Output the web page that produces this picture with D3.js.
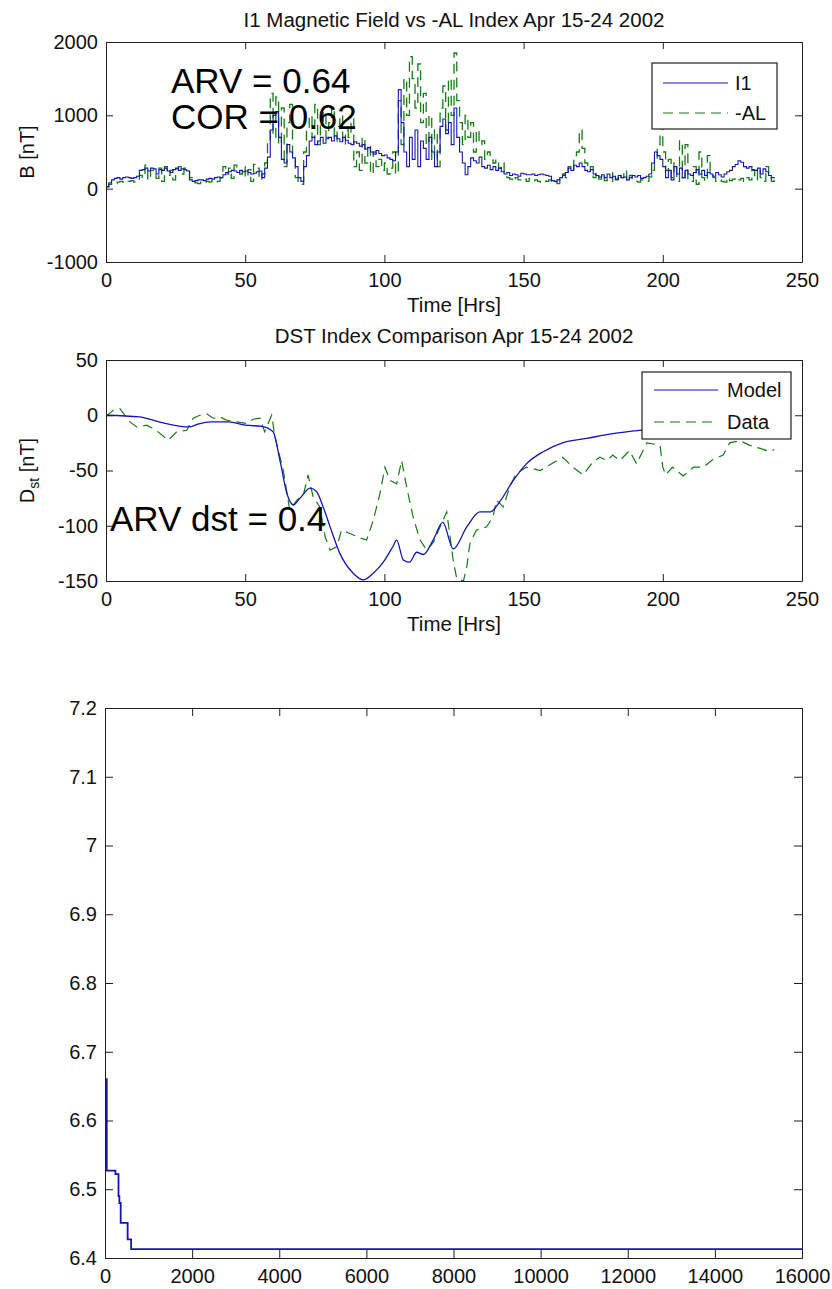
<!DOCTYPE html>
<html>
<head>
<meta charset="utf-8">
<script src="https://cdn.jsdelivr.net/npm/d3@7"></script>
<style>
  body { margin: 0; background: #fff; }
  svg { display: block; }
</style>
</head>
<body>
<svg id="fig" width="832" height="1289"></svg>
<script>
// ---- I1 magnetic field and -AL index, hourly values [nT], hours 0..240 ----
const i1Field = [
  30, 80, 120, 140, 150, 130, 150, 160, 150, 140,
  150, 170, 250, 260, 280, 240, 280, 270, 200, 260,
  250, 280, 240, 220, 260, 280, 250, 270, 260, 240,
  120, 100, 110, 120, 120, 110, 130, 140, 130, 150,
  160, 150, 190, 220, 230, 250, 240, 220, 250, 230,
  240, 220, 200, 210, 230, 240, 150, 280, 430, 800,
  1000, 1050, 700, 400, 350, 600, 500, 420, 300, 150,
  100, 300, 450, 650, 700, 600, 650, 700, 620, 680,
  700, 650, 720, 680, 640, 700, 660, 620, 600, 640,
  620, 580, 600, 540, 560, 500, 470, 520, 480, 450,
  460, 420, 400, 380, 500, 1350, 900, 500, 300, 700,
  400, 800, 300, 650, 550, 400, 700, 500, 300, 500,
  850, 950, 750, 900, 600, 1100, 700, 500, 350, 190,
  300, 420, 380, 350, 430, 300, 280, 320, 260, 300,
  250, 280, 230, 200, 220, 180, 200, 190, 170, 210,
  200, 190, 190, 200, 180, 190, 200, 190, 180, 170,
  110, 100, 120, 150, 180, 220, 280, 250, 320, 300,
  350, 300, 250, 230, 260, 200, 180, 160, 190, 150,
  200, 150, 170, 130, 180, 150, 160, 120, 150, 180,
  160, 180, 140, 150, 170, 200, 350, 500, 450, 400,
  300, 150, 250, 120, 300, 200, 280, 150, 250, 200,
  180, 220, 260, 200, 250, 180, 220, 200, 170, 220,
  190, 160, 200, 230, 250, 300, 330, 380, 360, 300,
  280, 300, 260, 250, 280, 200, 270, 230, 180, 150,
  160
];
const negAL = [
  20, 60, 80, 70, 90, 100, 90, 80, 100, 110,
  90, 130, 180, 150, 320, 120, 250, 200, 140, 280,
  100, 300, 180, 250, 120, 270, 300, 200, 280, 260,
  150, 90, 80, 70, 90, 80, 100, 90, 110, 90,
  100, 150, 300, 200, 280, 140, 320, 250, 200, 300,
  150, 260, 100, 330, 280, 120, 200, 350, 650, 1300,
  700, 1250, 600, 1100, 300, 900, 1150, 400, 150, 80,
  60, 500, 800, 1000, 700, 1150, 600, 900, 1050, 700,
  900, 1100, 650, 850, 1000, 600, 800, 700, 950, 300,
  500, 250, 700, 350, 600, 200, 500, 300, 400, 250,
  350, 200, 280, 500, 200, 1200, 600, 1500, 1000, 1800,
  1500, 1100, 1700, 900, 1300, 600, 1000, 400, 800, 300,
  1100, 1400, 800, 1500, 1000, 1850, 1200, 900, 600, 1000,
  700, 900, 500, 800, 600, 650, 400, 500, 450, 350,
  400, 280, 350, 200, 150, 130, 100, 150, 120, 110,
  130, 100, 140, 110, 120, 100, 90, 110, 100, 120,
  80, 90, 70, 120, 200, 150, 300, 250, 450, 500,
  800, 550, 350, 250, 300, 150, 220, 130, 200, 110,
  130, 100, 220, 120, 200, 150, 250, 100, 180, 110,
  100, 90, 120, 110, 100, 160, 250, 400, 600, 850,
  500, 250, 400, 150, 350, 100, 650, 150, 600, 120,
  100, 300, 60, 500, 150, 100, 450, 200, 150, 100,
  120, 100, 90, 150, 110, 130, 150, 120, 140, 100,
  150, 120, 250, 120, 280, 150, 100, 300, 150, 100,
  120
];

// ---- Dst index: model and measured [nT] ----
const dstModelHrs = [0, 12, 19, 30, 33, 38, 44, 50, 56, 60, 62.5, 65, 67.3, 69.7, 73.3, 75.6, 78, 80.5, 84, 88.8, 92.4, 96, 99.6, 103, 104.4, 106.8, 109, 111.6, 114, 117.5, 121, 124.7, 129.6, 134.3, 138, 141.5, 146.3, 151, 157, 164, 172.6, 182, 191.8, 199, 210, 225, 240];
const dstModelVals = [0, -1.5, -6, -10.6, -8, -6, -6, -9, -10, -15, -41, -71, -81, -75, -66, -69, -83, -101, -125, -143, -149, -143, -133, -119, -113, -131, -133, -124, -126, -113, -97, -121, -101, -87.5, -87.5, -78, -59, -44, -33, -25, -21, -16.6, -13.6, -12, -10, -9, -8];
const dstDataHrs = [0, 2.6, 5, 8.6, 11, 14.6, 18, 22.3, 25.4, 29, 31.3, 33.7, 36, 38.6, 41, 43.4, 47, 50.5, 52.9, 55.3, 57, 59.5, 60.7, 62.5, 63.7, 66, 68.5, 71, 72.6, 74.4, 76.8, 78.7, 80.5, 82.9, 84.6, 87.6, 91.2, 93.6, 96, 98.4, 100.2, 102, 104.4, 106.2, 108, 110.3, 112.8, 115.2, 117.6, 120, 122.4, 124.7, 126, 128.4, 129.6, 130.7, 133, 136.7, 139, 140.3, 142.7, 145, 147.3, 151, 156, 158, 162, 164, 167.7, 171.4, 175, 177.4, 180, 182, 184.6, 188, 190.6, 194.2, 199, 200, 201, 203.5, 207.3, 211, 214.6, 218, 221.7, 224, 227.7, 231, 235, 238.5, 240];
const dstDataVals = [-1, 4.5, 6, -6, -10.6, -9, -13.6, -22.6, -15, -13.6, -2.7, 0, 1.5, -2.7, -1.5, -4.5, -6, -7.5, -3.6, -2.7, -15, 0, -19.6, -38, -50, -86, -77, -71, -54, -74, -83, -110, -122, -119, -104, -107, -111, -113, -95, -71, -47, -59, -62, -41, -65, -92, -113, -122, -115, -101, -87.5, -131, -148, -150, -137, -116, -104, -101, -92, -77, -83, -65, -53, -47, -50, -47, -41, -38, -47, -54, -42, -38, -41, -36, -41, -32, -44, -25, -27, -47, -54, -47, -55, -47, -47, -40, -36, -25, -23, -27, -30, -33, -31];

// ---- objective value per iteration ----
const iterX = [0, 40, 240, 310, 330, 360, 520, 600, 16000];
const iterY = [6.66, 6.527, 6.522, 6.49, 6.48, 6.451, 6.427, 6.413, 6.413];

// ---- tick values ----
const ticksHrs = [0, 50, 100, 150, 200, 250];
const ticksB = [-1000, 0, 1000, 2000];
const ticksDst = [-150, -100, -50, 0, 50];
const ticksIter = [0, 2000, 4000, 6000, 8000, 10000, 12000, 14000, 16000];
const ticksObj = [6.4, 6.5, 6.6, 6.7, 6.8, 6.9, 7.0, 7.1, 7.2];

const FONT = '"Liberation Sans", Arial, Helvetica, sans-serif';
const FS = 20;
const AXIS = "#1e1e1e";
const INK = "#111";
const BLUE = "#1414b4";
const GREEN = "#137d13";
const DASH = "10,6";

const svg = d3.select("#fig").attr("font-family", FONT);

// Plain number labels with an ASCII minus
const plain = d => String(d);

function frame(box, x, y, xt, yt, xf, yf, tl) {
  const g = svg.append("g").attr("font-family", FONT).attr("font-size", FS);
  const style = s => {
    s.attr("font-family", FONT).attr("font-size", FS);
    s.select(".domain").attr("stroke", AXIS).attr("stroke-width", 1);
    s.selectAll(".tick line").attr("stroke", AXIS).attr("stroke-width", 1);
    s.selectAll(".tick text").attr("fill", INK);
  };
  g.append("g").attr("transform", `translate(0,${box.b})`)
    .call(d3.axisBottom(x).tickValues(xt).tickFormat(xf).tickSize(-tl).tickSizeOuter(0).tickPadding(11))
    .call(style);
  g.append("g").attr("transform", `translate(0,${box.t})`)
    .call(d3.axisTop(x).tickValues(xt).tickFormat("").tickSize(-tl).tickSizeOuter(0))
    .call(style);
  g.append("g").attr("transform", `translate(${box.l},0)`)
    .call(d3.axisLeft(y).tickValues(yt).tickFormat(yf).tickSize(-tl).tickSizeOuter(0).tickPadding(8))
    .call(style);
  g.append("g").attr("transform", `translate(${box.r},0)`)
    .call(d3.axisRight(y).tickValues(yt).tickFormat("").tickSize(-tl).tickSizeOuter(0))
    .call(style);
  return g;
}

function clip(id, box) {
  svg.append("clipPath").attr("id", id).append("rect")
    .attr("x", box.l).attr("y", box.t).attr("width", box.r - box.l).attr("height", box.b - box.t);
}

function legend(x0, y0, w, h, rows) {
  const g = svg.append("g");
  g.append("rect").attr("x", x0).attr("y", y0).attr("width", w).attr("height", h)
    .attr("fill", "#fff").attr("stroke", AXIS).attr("stroke-width", 1.2);
  rows.forEach(r => {
    g.append("line").attr("x1", r.x1).attr("x2", r.x2).attr("y1", r.y).attr("y2", r.y)
      .attr("stroke", r.color).attr("stroke-width", 1.2)
      .attr("stroke-dasharray", r.dash || null);
    g.append("text").attr("x", r.tx).attr("y", r.y + 7).attr("font-size", FS)
      .attr("fill", INK).text(r.label);
  });
}

// ================= Panel 1: I1 vs -AL =================
{
  const box = { l: 106, r: 802, t: 42, b: 262 };
  const x = d3.scaleLinear().domain([0, 250]).range([box.l, box.r]);
  const y = d3.scaleLinear().domain([-1000, 2000]).range([box.b, box.t]);
  clip("c1", box);
  const line = vals => d3.line().curve(d3.curveStepAfter)
    .x((d, i) => x(i)).y(d => y(d))(vals);
  svg.append("path").attr("d", line(negAL)).attr("clip-path", "url(#c1)")
    .attr("fill", "none").attr("stroke", GREEN).attr("stroke-width", 1.3)
    .attr("stroke-dasharray", DASH);
  svg.append("path").attr("d", line(i1Field)).attr("clip-path", "url(#c1)")
    .attr("fill", "none").attr("stroke", BLUE).attr("stroke-width", 1.1);
  frame(box, x, y, ticksHrs, ticksB, plain, plain, 7);

  svg.append("text").attr("x", (box.l + box.r) / 2).attr("y", 27).attr("text-anchor", "middle")
    .attr("font-size", FS + 0.5).attr("fill", INK).text("I1 Magnetic Field vs -AL Index Apr 15-24 2002");
  svg.append("text").attr("x", (box.l + box.r) / 2).attr("y", 312).attr("text-anchor", "middle")
    .attr("font-size", FS + 0.5).attr("fill", INK).text("Time [Hrs]");
  svg.append("text").attr("transform", `translate(34,${(box.t + box.b) / 2}) rotate(-90)`)
    .attr("text-anchor", "middle").attr("font-size", FS).attr("fill", INK).text("B [nT]");

  svg.append("text").attr("x", 171).attr("y", 93).attr("font-size", 35).attr("fill", "#000").text("ARV = 0.64");
  svg.append("text").attr("x", 171).attr("y", 129).attr("font-size", 35).attr("fill", "#000").text("COR = 0.62");

  legend(652, 63, 125, 66, [
    { x1: 663, x2: 728, y: 83, tx: 735, color: BLUE, label: "I1" },
    { x1: 663, x2: 728, y: 113, tx: 735, color: GREEN, dash: DASH, label: "-AL" }
  ]);
}

// ================= Panel 2: Dst comparison =================
{
  const box = { l: 106, r: 802, t: 360, b: 581 };
  const x = d3.scaleLinear().domain([0, 250]).range([box.l, box.r]);
  const y = d3.scaleLinear().domain([-150, 50]).range([box.b, box.t]);
  clip("c2", box);
  const dataLine = d3.line().x((d, i) => x(dstDataHrs[i])).y(d => y(d));
  const modelLine = d3.line().curve(d3.curveMonotoneX).x((d, i) => x(dstModelHrs[i])).y(d => y(d));
  svg.append("path").attr("d", dataLine(dstDataVals)).attr("clip-path", "url(#c2)")
    .attr("fill", "none").attr("stroke", GREEN).attr("stroke-width", 1.2)
    .attr("stroke-dasharray", DASH);
  svg.append("path").attr("d", modelLine(dstModelVals)).attr("clip-path", "url(#c2)")
    .attr("fill", "none").attr("stroke", BLUE).attr("stroke-width", 1.3);
  frame(box, x, y, ticksHrs, ticksDst, plain, plain, 7);

  svg.append("text").attr("x", (box.l + box.r) / 2).attr("y", 343).attr("text-anchor", "middle")
    .attr("font-size", FS + 0.5).attr("fill", INK).text("DST Index Comparison Apr 15-24 2002");
  svg.append("text").attr("x", (box.l + box.r) / 2).attr("y", 631).attr("text-anchor", "middle")
    .attr("font-size", FS + 0.5).attr("fill", INK).text("Time [Hrs]");
  const yl = svg.append("text").attr("transform", `translate(34,${(box.t + box.b) / 2}) rotate(-90)`)
    .attr("text-anchor", "middle").attr("font-size", FS).attr("fill", INK);
  yl.append("tspan").text("D");
  yl.append("tspan").attr("font-size", 14).attr("dy", 5).text("st");
  yl.append("tspan").attr("dy", -5).text(" [nT]");

  svg.append("text").attr("x", 110).attr("y", 531).attr("font-size", 35).attr("fill", "#000").text("ARV dst = 0.4");

  legend(642, 372, 149, 67, [
    { x1: 654, x2: 718, y: 390, tx: 727, color: BLUE, label: "Model" },
    { x1: 654, x2: 718, y: 422, tx: 727, color: GREEN, dash: DASH, label: "Data" }
  ]);
}

// ================= Panel 3: objective vs iteration =================
{
  const box = { l: 105, r: 802, t: 708, b: 1258 };
  const x = d3.scaleLinear().domain([0, 16000]).range([box.l, box.r]);
  const y = d3.scaleLinear().domain([6.4, 7.2]).range([box.b, box.t]);
  clip("c3", box);
  const line = d3.line().curve(d3.curveStepAfter).x((d, i) => x(iterX[i])).y(d => y(d));
  svg.append("path").attr("d", line(iterY)).attr("clip-path", "url(#c3)")
    .attr("fill", "none").attr("stroke", BLUE).attr("stroke-width", 1.8);
  const fmt = d => (Math.abs(d - 7) < 1e-9 ? "7" : d.toFixed(1));
  frame(box, x, y, ticksIter, ticksObj, plain, fmt, 8);
}
</script>
</body>
</html>
